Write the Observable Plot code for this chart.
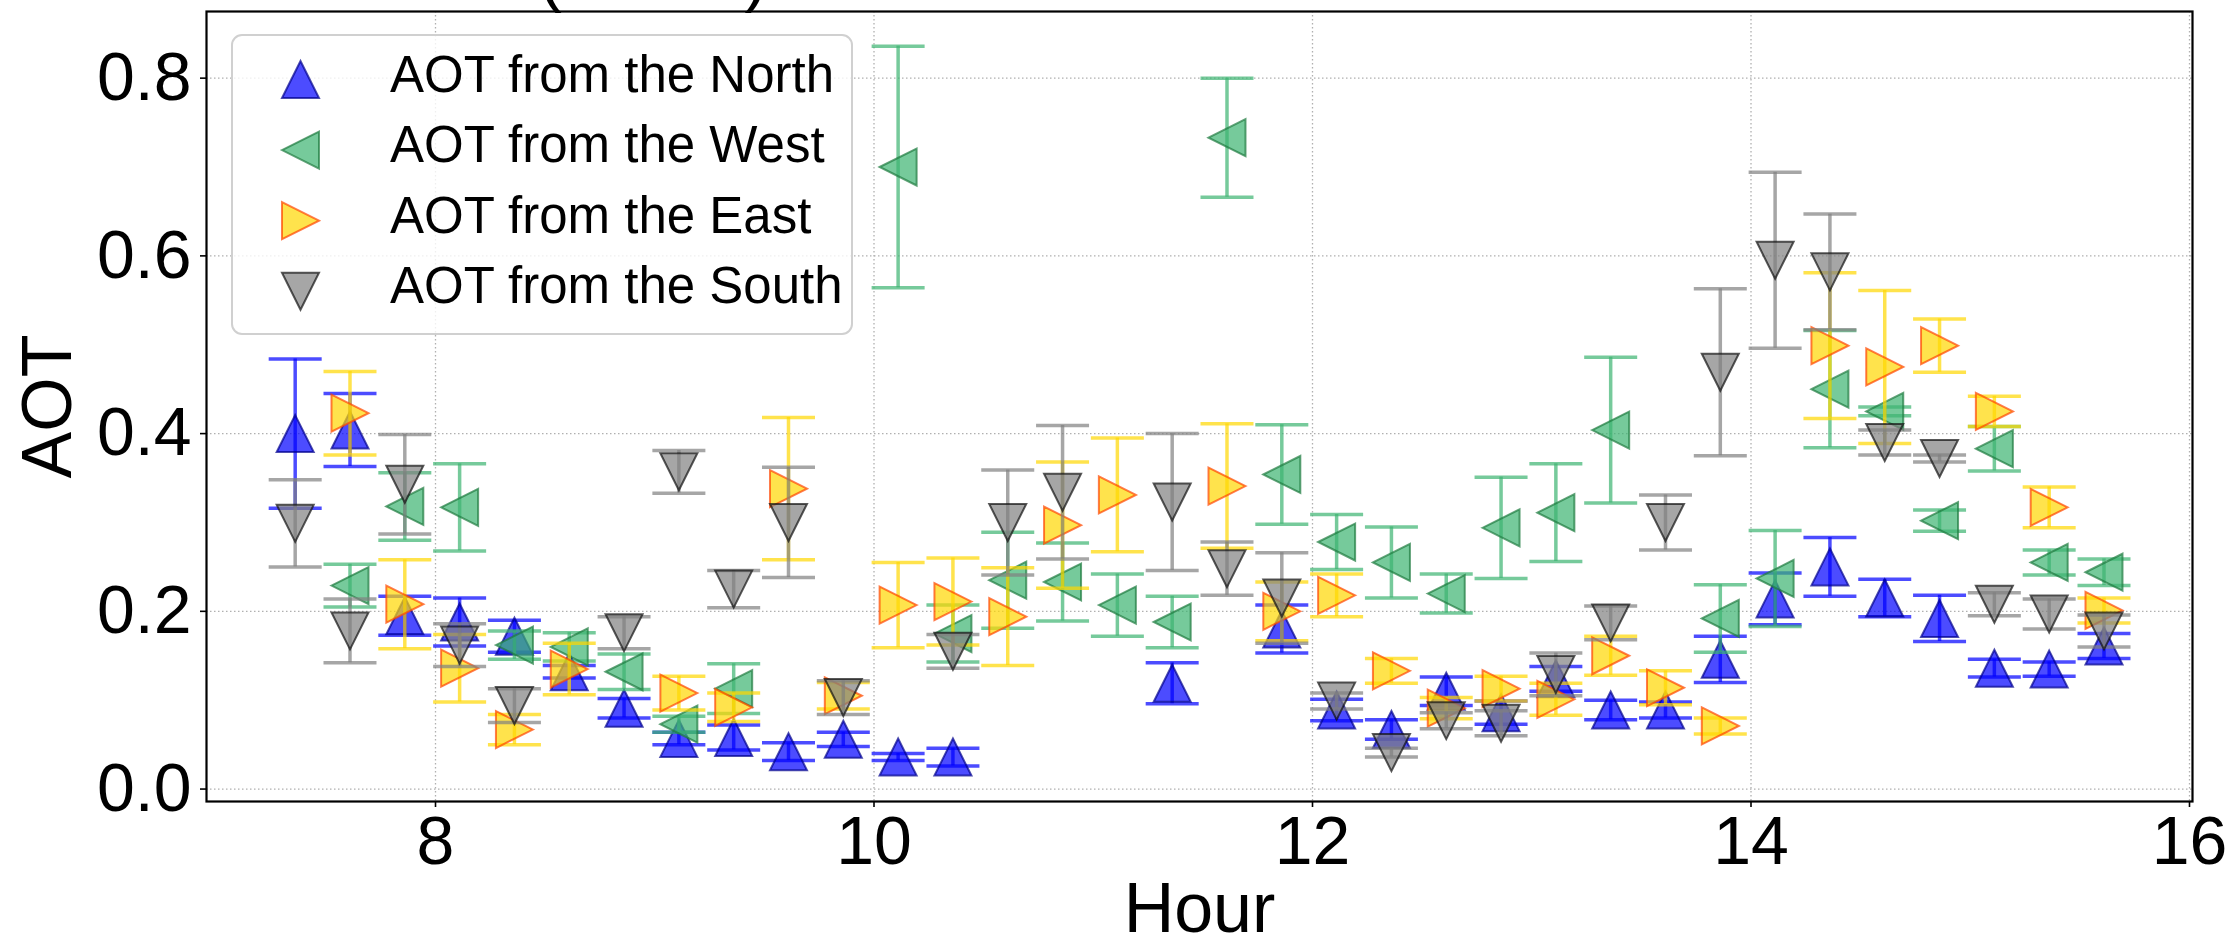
<!DOCTYPE html>
<html>
<head>
<meta charset="utf-8">
<script src="https://cdn.jsdelivr.net/npm/d3@7"></script>
<script src="https://cdn.jsdelivr.net/npm/@observablehq/plot@0.6"></script>
<style>
  html, body { margin: 0; padding: 0; background: #ffffff; }
  #chart { width: 2236px; height: 943px; overflow: hidden; }
  #chart svg { display: block; }
</style>
</head>
<body>
<div id="chart"></div>
<script>
// ---------- data ----------
const hours = [7.36, 7.61, 7.86, 8.11, 8.36, 8.61, 8.86, 9.11, 9.36, 9.61, 9.86,
  10.11, 10.36, 10.61, 10.86, 11.11, 11.36, 11.61, 11.86, 12.11, 12.36, 12.61,
  12.86, 13.11, 13.36, 13.61, 13.86, 14.11, 14.36, 14.61, 14.86, 15.11, 15.36, 15.61];

const northAOT = [0.400, 0.404, 0.195, 0.188, 0.172, 0.132, 0.091, 0.057, 0.058, 0.042, 0.056,
  0.036, 0.036, null, null, null, 0.119, null, 0.180, 0.089, 0.067, 0.110,
  0.086, 0.124, 0.089, 0.089, 0.146, 0.214, 0.250, 0.215, 0.192, 0.136, 0.135, 0.161];
const northErr = [0.084, 0.041, 0.022, 0.027, 0.018, 0.007, 0.011, 0.007, 0.014, 0.010, 0.008,
  0.004, 0.010, null, null, null, 0.023, null, 0.027, 0.012, 0.011, 0.016,
  0.013, 0.014, 0.011, 0.009, 0.026, 0.029, 0.033, 0.021, 0.026, 0.010, 0.008, 0.014];

const westAOT = [null, 0.229, 0.318, 0.317, 0.162, 0.160, 0.132, 0.073, 0.113, null, null,
  0.700, 0.175, 0.235, 0.233, 0.207, 0.188, 0.733, 0.354, 0.278, 0.255, 0.220,
  0.294, 0.311, 0.404, null, 0.192, 0.237, 0.450, 0.425, 0.302, 0.383, 0.255, 0.244];
const westErr = [null, 0.024, 0.038, 0.049, 0.016, 0.016, 0.020, 0.009, 0.028, null, null,
  0.136, 0.032, 0.054, 0.044, 0.035, 0.029, 0.067, 0.056, 0.031, 0.040, 0.022,
  0.057, 0.055, 0.082, null, 0.038, 0.054, 0.066, 0.005, 0.012, 0.025, 0.014, 0.015];

const eastAOT = [null, 0.423, 0.208, 0.136, 0.067, 0.135, null, 0.108, 0.092, 0.338, 0.105,
  0.207, 0.211, 0.194, 0.297, 0.331, null, 0.341, 0.200, 0.218, 0.133, 0.091,
  0.113, 0.101, 0.150, 0.114, 0.071, null, 0.499, 0.475, 0.499, 0.425, 0.317, 0.201];
const eastErr = [null, 0.047, 0.050, 0.038, 0.017, 0.029, null, 0.019, 0.016, 0.080, 0.015,
  0.048, 0.049, 0.055, 0.071, 0.064, null, 0.070, 0.033, 0.024, 0.014, 0.012,
  0.014, 0.018, 0.022, 0.019, 0.009, null, 0.082, 0.086, 0.030, 0.017, 0.023, 0.014];

const southAOT = [0.299, 0.178, 0.343, 0.162, 0.094, null, 0.176, 0.357, 0.225, 0.300, 0.103,
  null, 0.155, 0.300, 0.334, null, 0.323, 0.248, 0.215, 0.099, 0.041, 0.077,
  0.074, 0.129, 0.187, 0.300, 0.469, 0.595, 0.582, 0.390, 0.372, 0.208, 0.197, 0.178];
const southErr = [0.049, 0.036, 0.056, 0.024, 0.019, null, 0.018, 0.024, 0.021, 0.062, 0.019,
  null, 0.019, 0.059, 0.075, null, 0.077, 0.030, 0.051, 0.009, 0.005, 0.009,
  0.014, 0.024, 0.019, 0.031, 0.094, 0.099, 0.065, 0.014, 0.004, 0.013, 0.017, 0.018];

const seriesNames = ["AOT from the North", "AOT from the West", "AOT from the East", "AOT from the South"];
const xTicks = [8, 10, 12, 14, 16];
const yTicks = [0.0, 0.2, 0.4, 0.6, 0.8];
const xLabel = "Hour";
const yLabel = "AOT";
const titleParts = ["(", ")"];

// ---------- symbols (matplotlib-like triangles, bbox centred) ----------
function tri(dir) {
  return {
    draw(ctx, size) {
      const r = Math.sqrt(size / Math.PI);
      if (dir === "up") { ctx.moveTo(0, -r); ctx.lineTo(r, r); ctx.lineTo(-r, r); }
      else if (dir === "down") { ctx.moveTo(0, r); ctx.lineTo(r, -r); ctx.lineTo(-r, -r); }
      else if (dir === "left") { ctx.moveTo(-r, 0); ctx.lineTo(r, -r); ctx.lineTo(r, r); }
      else { ctx.moveTo(r, 0); ctx.lineTo(-r, -r); ctx.lineTo(-r, r); }
      ctx.closePath();
    }
  };
}
const capSymbol = {
  draw(ctx, size) {
    const r = Math.sqrt(size / Math.PI);
    ctx.moveTo(-r, 0); ctx.lineTo(r, 0);
  }
};

const styles = [
  {symbol: tri("up"),    fill: "#0000ff", edge: "#00008b", ecolor: "#0000ff"},
  {symbol: tri("left"),  fill: "#3cb371", edge: "#1e7a3e", ecolor: "#3cb371"},
  {symbol: tri("right"), fill: "#ffd700", edge: "#ff4500", ecolor: "#ffd700"},
  {symbol: tri("down"),  fill: "#808080", edge: "#111111", ecolor: "#808080"}
];
const valueArrays = [northAOT, westAOT, eastAOT, southAOT];
const errArrays = [northErr, westErr, eastErr, southErr];

const series = seriesNames.map((name, k) => ({
  name,
  ...styles[k],
  data: hours.map((h, i) => ({h, v: valueArrays[k][i], e: errArrays[k][i]})).filter(d => d.v != null)
}));

const ALPHA = 0.7;
const MARKER_R = 18.5;
const CAP_R = 26.5;
const EW = 3.5;

const marks = [
  Plot.gridX(xTicks, {stroke: "#b0b0b0", strokeOpacity: 1, strokeWidth: 1.3, strokeDasharray: "1.5,2.5"}),
  Plot.gridY(yTicks, {stroke: "#b0b0b0", strokeOpacity: 1, strokeWidth: 1.3, strokeDasharray: "1.5,2.5"})
];

for (const s of series) {
  marks.push(
    Plot.ruleX(s.data, {x: "h", y1: d => d.v - d.e, y2: d => d.v + d.e,
      stroke: s.ecolor, strokeOpacity: ALPHA, strokeWidth: EW}),
    Plot.dot(s.data, {x: "h", y: d => d.v + d.e, symbol: capSymbol, r: CAP_R,
      fill: "none", stroke: s.ecolor, strokeOpacity: ALPHA, strokeWidth: EW}),
    Plot.dot(s.data, {x: "h", y: d => d.v - d.e, symbol: capSymbol, r: CAP_R,
      fill: "none", stroke: s.ecolor, strokeOpacity: ALPHA, strokeWidth: EW}),
    Plot.dot(s.data, {x: "h", y: "v", symbol: s.symbol, r: MARKER_R,
      fill: s.fill, fillOpacity: ALPHA, stroke: s.edge, strokeOpacity: ALPHA, strokeWidth: 2})
  );
}

marks.push(
  Plot.frame({stroke: "#000000", strokeWidth: 2.2}),
  Plot.axisX({ticks: xTicks, tickFormat: d => String(d), fontSize: 68, tickSize: 6, tickPadding: 8,
    strokeWidth: 1.6, label: null}),
  Plot.axisY({ticks: yTicks, tickFormat: d => d.toFixed(1), fontSize: 68, tickSize: 6, tickPadding: 9,
    strokeWidth: 1.6, label: null}),
  Plot.text([xLabel], {text: d => d, frameAnchor: "bottom", lineAnchor: "middle", textAnchor: "middle", dy: 108, fontSize: 70, fill: "#000"}),
  Plot.text([yLabel], {text: d => d, frameAnchor: "left", lineAnchor: "middle", textAnchor: "middle", rotate: -90, dx: -158, fontSize: 70, fill: "#000"}),
  Plot.text([titleParts[0]], {text: d => d, frameAnchor: "top", lineAnchor: "middle", textAnchor: "start", dx: -661, dy: -36.4, fontSize: 70, fill: "#000"}),
  Plot.text([titleParts[1]], {text: d => d, frameAnchor: "top", lineAnchor: "middle", textAnchor: "start", dx: -455, dy: -36.4, fontSize: 70, fill: "#000"})
);

const chart = Plot.plot({
  width: 2236,
  height: 943,
  marginLeft: 206,
  marginRight: 44,
  marginTop: 11,
  marginBottom: 142,
  style: {fontFamily: "'Liberation Sans', Arial, sans-serif", background: "#ffffff", color: "#000000", overflow: "hidden"},
  x: {domain: [6.9555, 16.0137]},
  y: {domain: [-0.014, 0.875]},
  marks
});

document.getElementById("chart").appendChild(chart);

// ---------- legend inside the axes (upper left) ----------
const svg = d3.select(chart.tagName.toLowerCase() === "svg" ? chart : chart.querySelector("svg"));
const lg = svg.append("g")
  .attr("font-family", "'Liberation Sans', Arial, sans-serif")
  .attr("text-anchor", "start");
lg.append("rect")
  .attr("x", 232).attr("y", 35).attr("width", 620).attr("height", 299).attr("rx", 10)
  .attr("fill", "#ffffff").attr("fill-opacity", 0.8)
  .attr("stroke", "#d0d0d0").attr("stroke-width", 2);
series.forEach((s, i) => {
  const cy = 79.5 + i * 70.6;
  lg.append("path")
    .attr("d", d3.symbol(s.symbol, Math.PI * MARKER_R * MARKER_R)())
    .attr("transform", `translate(300.5,${cy})`)
    .attr("fill", s.fill).attr("fill-opacity", ALPHA)
    .attr("stroke", s.edge).attr("stroke-opacity", ALPHA).attr("stroke-width", 2);
  lg.append("text")
    .attr("x", 390).attr("y", cy + 12)
    .attr("text-anchor", "start")
    .attr("font-size", 51).attr("fill", "#000")
    .text(s.name);
});
</script>
</body>
</html>
